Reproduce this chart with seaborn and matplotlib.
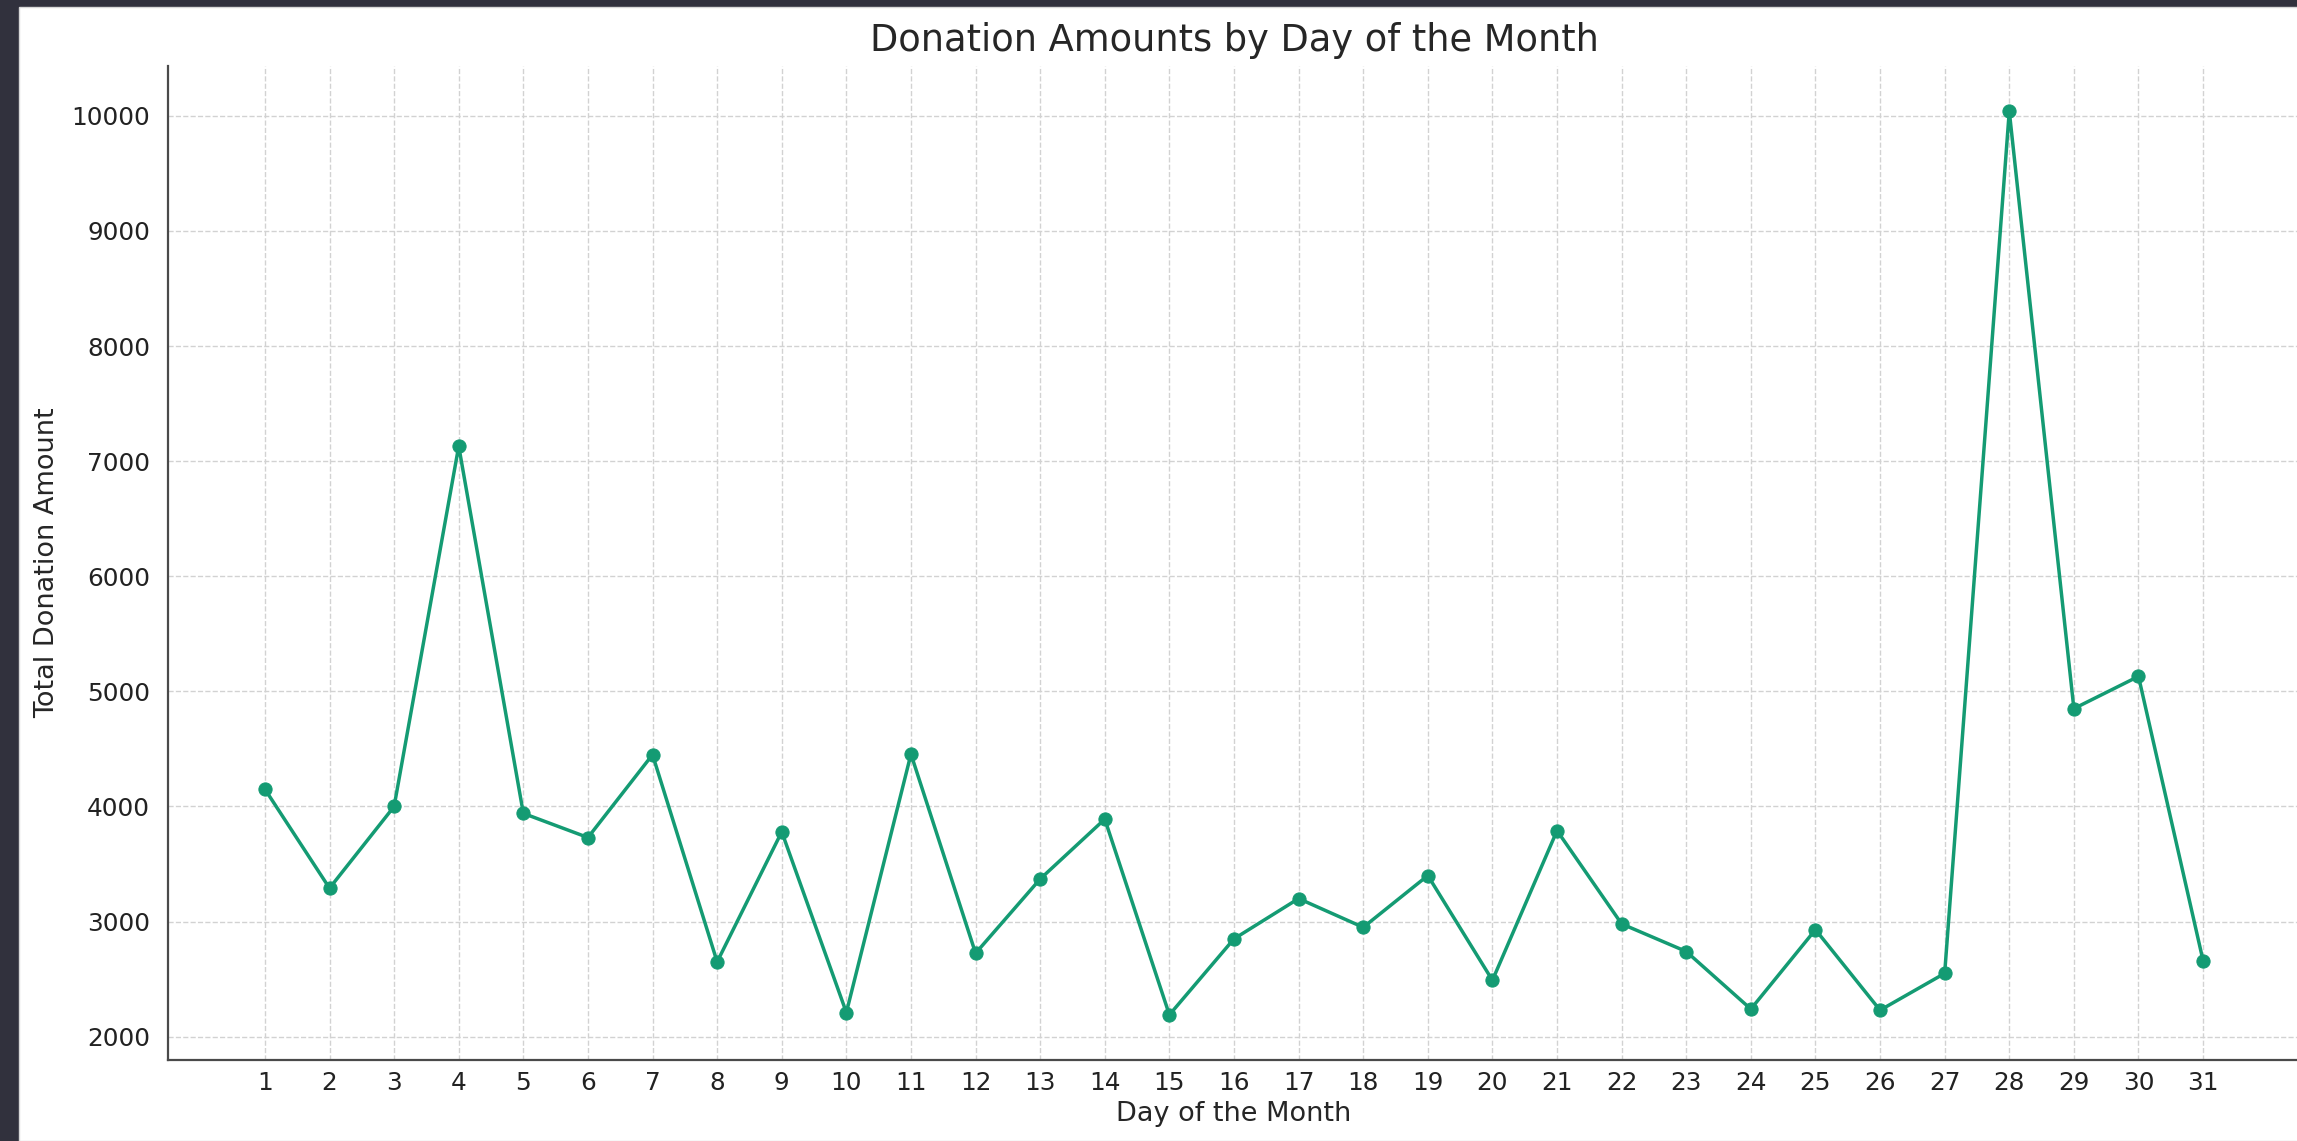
import matplotlib
matplotlib.use("Agg")
import matplotlib.pyplot as plt
import seaborn as sns
import pandas as pd
from matplotlib.patches import Rectangle

days = list(range(1, 32))
amounts = [4150, 3290, 4000, 7130, 3940, 3730, 4450, 2650, 3780, 2210,
           4455, 2725, 3370, 3890, 2190, 2850, 3200, 2950, 3400, 2490,
           3790, 2980, 2740, 2240, 2930, 2230, 2550, 10040, 4850, 5130, 2660]
title = "Donation Amounts by Day of the Month"
xlabel = "Day of the Month"
ylabel = "Total Donation Amount"

df = pd.DataFrame({"day": days, "amount": amounts})

sns.set_style("white")
plt.rcParams['font.family'] = ['DejaVu Sans']

fig = plt.figure(figsize=(22.97, 11.41), dpi=100)
fig.patch.set_facecolor('#31313d')
bg = Rectangle((19/2297, 0), 1, 1 - 7/1141, transform=fig.transFigure,
               facecolor='white', edgecolor='#d8d8d8', linewidth=1.0, zorder=-10)
fig.add_artist(bg)
ax = fig.add_axes([168/2297, 1 - 1060/1141, (2300 - 168)/2297, (1060 - 66)/1141])
ax.set_facecolor('white')

color = '#149b73'
sns.lineplot(data=df, x="day", y="amount", ax=ax, color=color, linewidth=2.5,
             marker='o', markersize=9.5, markeredgecolor=color)

ax.set_xticks(days)
ax.grid(True, linestyle='--', color='#d2d2d2', linewidth=1.0)
ax.set_axisbelow(True)
for s in ['top', 'right']:
    ax.spines[s].set_visible(False)
for s in ['left', 'bottom']:
    ax.spines[s].set_color('#4a4a4a')
    ax.spines[s].set_linewidth(1.6)
ax.tick_params(direction='in', length=5, width=1.4, colors='#222222', labelsize=17.8)
ax.tick_params(axis='x', pad=8)
ax.tick_params(axis='y', pad=13)
ax.set_title(title, fontsize=26.5, pad=11)
ax.set_xlabel(xlabel, fontsize=19.5, labelpad=4)
ax.set_ylabel(ylabel, fontsize=19.5, labelpad=8)

fig.savefig("out.png", dpi=100, facecolor=fig.get_facecolor())
